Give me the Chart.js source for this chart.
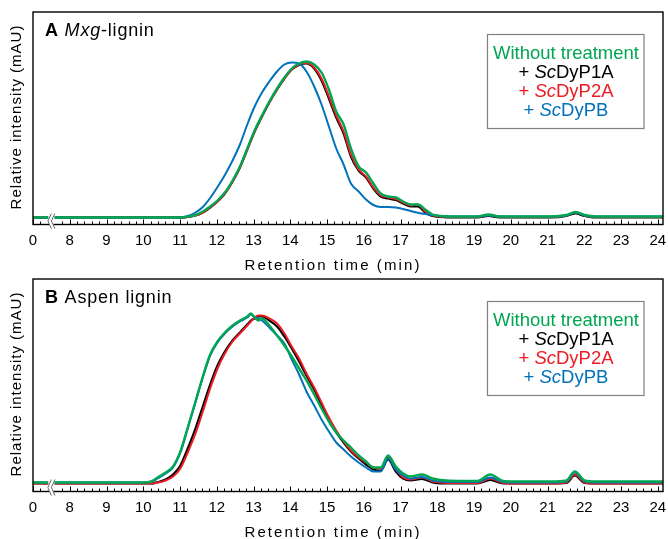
<!DOCTYPE html>
<html><head><meta charset="utf-8">
<script src="https://cdn.jsdelivr.net/npm/chart.js@4.4.1/dist/chart.umd.min.js"></script>
<style>
html,body{margin:0;padding:0;background:#fff;overflow:hidden;width:668px;height:539px;position:relative;}
canvas{position:absolute;left:0;}
#cA{top:0px}
#cB{top:267px}
</style></head><body>
<canvas id="cA" width="668" height="275"></canvas>
<canvas id="cB" width="668" height="275"></canvas>
<script>
// ---- tick labels (axis has a break: position 7 is labelled "0") ----
const tickValues = [7,8,9,10,11,12,13,14,15,16,17,18,19,20,21,22,23,24];
const tickLabels = ['0','8','9','10','11','12','13','14','15','16','17','18','19','20','21','22','23','24'];
const seriesNames = ['Without treatment','+ ScDyP1A','+ ScDyP2A','+ ScDyPB'];

// ---- Panel A: Mxg-lignin ----
const timeA = [7,8,9,10,10.81,11.01,11.21,11.42,11.62,11.82,12.02,12.22,12.43,12.63,12.83,13.03,13.23,13.43,13.64,13.84,14.04,14.24,14.44,14.65,14.85,15.05,15.25,15.45,15.65,15.86,16.06,16.26,16.46,16.66,16.87,17.07,17.27,17.47,17.67,17.87,18.08,18.58,19.09,19.39,19.69,20.09,21.1,21.51,21.76,22.01,22.31,23.12,24.14];
const aWithout = [0,0,0,0,0,0,1,2.5,6,11,17,25,37,51,69,87,102,116,129,140,149,154,156,153,145,128,106,93,69,51,45,34,24,21,20,16,13,13,8,3,1.5,1,1,3,1,1,1,2.5,5.5,2.5,1,1,1];
const aP1A = [0,0,0,0,0,0,0.5,2,5,10,16,24,36,50,68,86,101,115,128,139,148,152.5,154,149,137,119,100,84,61,47,40,29,21,19,17.5,14,11,11,5,1.5,0.5,0,0,1.5,0,0,0,1.5,4,1.5,0,0,0];
const aP2A = [0,0,0,0,0,0,0.5,2,5,10,16,24,36,50,68,86,101,115,128,139,148,153,154.5,150,139,121,102,86,63,48,41,30,22,20,18.5,15,12,13,6,2,1,0.5,0.5,2.5,0.5,0.5,0.5,2,5,2,0.5,0.5,0.5];
const aPB = [0,0,0,0,0,0,1.5,5,10.5,19.5,30.5,42.5,57,73,93,111,125,136,146,153,155,154,146,131,113,91,69,53,34,26,18,12.5,10.5,10.5,10,8.5,6.5,4.8,3.5,2.5,1.5,1,1,2,1,1,1,2,5,2,1,1,1];

// ---- Panel B: Aspen lignin ----
const timeB = [7,8,9,9.8,10,10.21,10.41,10.61,10.81,11.01,11.21,11.42,11.62,11.82,12.02,12.22,12.43,12.63,12.83,12.93,13.03,13.13,13.23,13.43,13.64,13.84,14.04,14.24,14.44,14.65,14.85,15.05,15.25,15.45,15.65,15.86,16.06,16.26,16.46,16.66,16.87,17.07,17.27,17.58,17.87,18.08,18.58,19.09,19.44,19.79,20.09,21.1,21.51,21.74,22.01,22.31,23.12,24.14];
const bWithout = [1,1,1,1,1,2,6.5,11,17,32,56,82,107,129,142,151,158,163,167,170,166,163,165,158,148,138,127,115,103,89,75,62,51,43,36,28,22,16,16,28,17,10,7,9,5,3.5,2.5,2.5,9,2.5,2,2,3,12,3,2,2,2];
const bP1A = [0,0,0,0,0,0,1.5,4,9,18,35,55,77,99,118,132,143,151,159,163,165,167,167,163,157,147,135,122,108,94,79,64,51,41,32,25,19,14,13,24,12,5,3,4.5,1,0,0,0,3.5,0,0,0,0.5,8,0.5,0,0,0];
const bP2A = [0,0,0,0,0,0,1,3,7,15,31,50,72,95,115,130,142,150,158,162,166,168,168,165,160,150,137,125,110,96,81,66,53,42,33,26,21,16,15,26,14,6,4,6,2,1,0.5,0.5,5,0.5,0,0,1,9,1,0,0,0];
const bPB = [1,1,1,1,1,1.5,5.5,10,16,31,55,81,106,128,141,150,157,162,166,169,166,165,163,156,148,140,124,109,92,78,64,52,41,34,27,21,16,12,12,25,14,8,5,6.5,3,2,1.5,1.5,6,1.5,1,1,2,11,2,1,1,1];

const GREEN = '#00A651', BLACK = '#000000', RED = '#ED1C24', BLUE = '#0072BC';
const FONT = '"Liberation Sans", Arial, Helvetica, sans-serif';

function pts(t, v) { return t.map((x, i) => ({x: x, y: v[i]})); }

function drawSegs(ctx, segs, x, y, align, spacing) {
  ctx.letterSpacing = (spacing || 0) + 'px';
  let total = 0;
  segs.forEach(s => { ctx.font = s.f; total += ctx.measureText(s.t).width; });
  let cx = align === 'center' ? x - total / 2 : x;
  segs.forEach(s => {
    ctx.font = s.f; ctx.fillStyle = s.c;
    ctx.fillText(s.t, cx, y);
    cx += ctx.measureText(s.t).width;
  });
  ctx.letterSpacing = '0px';
}

function makePanel(canvasId, time, w, p1, p2, pb, yMin, yMax, titleSegs) {
  const deco = {
    id: 'deco',
    afterDatasetsDraw(chart) {
      const ctx = chart.ctx, a = chart.chartArea;
      const xs = chart.scales.x, ys = chart.scales.y;
      ctx.save();
      // minor / major ticks pointing inward
      ctx.strokeStyle = '#000'; ctx.lineWidth = 1;
      for (let i = 35; i <= 120; i++) {
        const v = i / 5;
        if (v > 7.3 && v < 7.7) continue;
        const px = Math.round(xs.getPixelForValue(v)) + 0.5;
        const len = (i % 5 === 0) ? 5 : 3;
        ctx.beginPath(); ctx.moveTo(px, a.bottom); ctx.lineTo(px, a.bottom - len); ctx.stroke();
      }
      // axis break symbol
      const bx = xs.getPixelForValue(7.5), by = ys.getPixelForValue(0);
      ctx.fillStyle = '#fff';
      ctx.fillRect(bx - 3, by - 4, 6, a.bottom - by + 8);
      // frame
      ctx.strokeStyle = '#000'; ctx.lineWidth = 1.4;
      ctx.strokeRect(a.left, a.top, a.right - a.left, a.bottom - a.top);
      ctx.fillStyle = '#fff';
      ctx.fillRect(bx - 2, a.bottom - 1.5, 4, 3);
      ctx.strokeStyle = '#666'; ctx.lineWidth = 1;
      [bx - 2, bx + 1.5].forEach(cx => {
        ctx.beginPath();
        ctx.moveTo(cx + 2, by - 4); ctx.lineTo(cx - 1.5, (by + a.bottom) / 2); ctx.lineTo(cx + 2, a.bottom + 4);
        ctx.stroke();
      });
      // panel title
      ctx.textBaseline = 'alphabetic';
      drawSegs(ctx, titleSegs, 45, 36, 'left', 0.8);
      // legend box
      ctx.strokeStyle = '#808080'; ctx.lineWidth = 1.2;
      ctx.strokeRect(487.5, 34.5, 156.5, 94);
      const lf = '18.5px ' + FONT, lfi = 'italic 18.5px ' + FONT;
      const cx = 566;
      drawSegs(ctx, [{t: 'Without treatment', f: lf, c: GREEN}], cx, 58.5, 'center');
      drawSegs(ctx, [{t: '+ ', f: lf, c: BLACK}, {t: 'Sc', f: lfi, c: BLACK}, {t: 'DyP1A', f: lf, c: BLACK}], cx, 78, 'center');
      drawSegs(ctx, [{t: '+ ', f: lf, c: RED}, {t: 'Sc', f: lfi, c: RED}, {t: 'DyP2A', f: lf, c: RED}], cx, 97, 'center');
      drawSegs(ctx, [{t: '+ ', f: lf, c: BLUE}, {t: 'Sc', f: lfi, c: BLUE}, {t: 'DyPB', f: lf, c: BLUE}], cx, 116, 'center');
      // x axis title
      ctx.textBaseline = 'middle';
      drawSegs(ctx, [{t: 'Retention time (min)', f: '15px ' + FONT, c: '#000'}], 333, 266, 'center', 2.1);
      // y axis title
      ctx.translate(17, 117);
      ctx.rotate(-Math.PI / 2);
      drawSegs(ctx, [{t: 'Relative intensity (mAU)', f: '15px ' + FONT, c: '#000'}], 0, 0, 'center', 1.0);
      ctx.restore();
    }
  };
  return new Chart(document.getElementById(canvasId), {
    type: 'line',
    data: {
      datasets: [
        {label: seriesNames[0], data: pts(time, w), borderColor: GREEN, borderWidth: 2.4},
        {label: seriesNames[3], data: pts(time, pb), borderColor: BLUE, borderWidth: 2},
        {label: seriesNames[2], data: pts(time, p2), borderColor: RED, borderWidth: 2},
        {label: seriesNames[1], data: pts(time, p1), borderColor: BLACK, borderWidth: 2.2}
      ]
    },
    options: {
      responsive: false, animation: false, devicePixelRatio: 1,
      layout: {padding: {top: 12, left: 33, right: 5, bottom: 0}, autoPadding: false},
      plugins: {legend: {display: false}, tooltip: {enabled: false}},
      elements: {point: {radius: 0}, line: {cubicInterpolationMode: 'monotone', fill: false}},
      scales: {
        x: {
          type: 'linear', min: 7, max: 24.14,
          afterFit(s) { s.height = 50.5; s.paddingLeft = 0; s.paddingRight = 0; },
          afterBuildTicks(s) { s.ticks = tickValues.map(v => ({value: v})); },
          grid: {display: false, drawTicks: false},
          border: {display: false},
          ticks: {
            padding: 7, autoSkip: false, maxRotation: 0, color: '#000',
            font: {family: FONT, size: 15},
            callback: (v) => tickLabels[tickValues.indexOf(v)]
          }
        },
        y: {display: false, min: yMin, max: yMax}
      }
    },
    plugins: [deco]
  });
}

const tf = '18px ' + FONT;
makePanel('cA', timeA, aWithout, aP1A, aP2A, aPB, -7, 205.5,
  [{t: 'A', f: 'bold ' + tf, c: '#000'}, {t: ' ', f: tf, c: '#000'}, {t: 'Mxg', f: 'italic ' + tf, c: '#000'}, {t: '-lignin', f: tf, c: '#000'}]);
makePanel('cB', timeB, bWithout, bP1A, bP2A, bPB, -8, 204.5,
  [{t: 'B', f: 'bold ' + tf, c: '#000'}, {t: ' Aspen lignin', f: tf, c: '#000'}]);
</script>
</body></html>
